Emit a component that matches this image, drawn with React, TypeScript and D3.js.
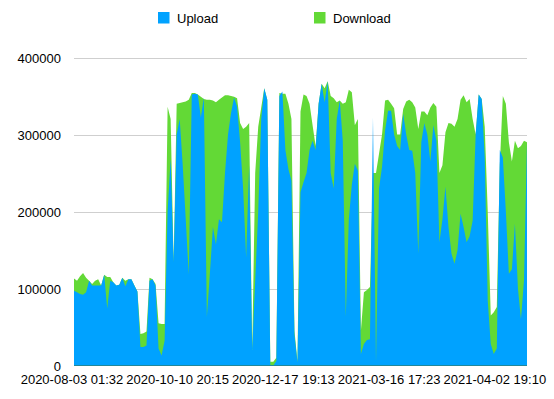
import React, { useEffect, useRef } from 'react';
import * as d3 from 'd3';

// values in thousands
const download = [
  113, 110, 116, 120, 114, 110, 106, 110, 112, 104,
  118, 115, 115, 108, 104, 105, 114, 110, 112, 112,
  104, 96, 41, 42, 44, 114, 112, 106, 55, 54,
  54, 336, 320, 134, 340, 341, 342, 343, 345, 354,
  354, 352, 349, 346, 345, 345, 344, 342, 345, 348,
  351, 351, 350, 349, 347, 315, 307, 310, 315, 20,
  250, 310, 335, 360, 345, 5, 5, 10, 354, 353,
  353, 340, 320, 45, 5, 330, 352, 350, 340, 312,
  285, 340, 366, 360, 369, 350, 347, 342, 344, 340,
  342, 358, 355, 312, 320, 45, 95, 98, 102, 250,
  250, 275, 300, 344, 345, 340, 334, 300, 300, 333,
  343, 345, 342, 335, 307, 330, 330, 325, 335, 341,
  336, 250, 260, 303, 315, 314, 310, 320, 345, 351,
  342, 346, 320, 300, 352, 346, 310, 200, 65, 69,
  76, 260, 350, 340, 290, 265, 292, 282, 285, 292,
  290,
];

const upload = [
  97, 95, 93, 92, 95, 110, 104, 104, 104, 104,
  118, 74, 110, 108, 104, 105, 114, 103, 112, 112,
  104, 96, 24, 24, 26, 110, 112, 104, 22, 13,
  32, 200, 268, 134, 300, 320, 260, 190, 118, 352,
  353, 352, 322, 348, 63, 120, 180, 157, 190, 186,
  250, 300, 328, 348, 336, 290, 230, 140, 260, 20,
  110, 200, 320, 360, 345, 0, 0, 6, 350, 356,
  280, 255, 240, 40, 4, 225, 238, 250, 280, 292,
  280, 340, 366, 342, 369, 250, 230, 320, 344, 292,
  63, 190, 235, 262, 253, 15, 28, 33, 34, 322,
  5, 230, 258, 305, 331, 331, 300, 285, 280, 327,
  300, 280, 279, 250, 145, 290, 315, 300, 265, 312,
  292, 160, 190, 232, 180, 145, 132, 150, 197, 180,
  160, 168, 188, 300, 352, 346, 270, 84, 28, 15,
  22, 280, 270, 200, 119, 125, 184, 100, 60, 110,
  290,
];

const tickIndex = [0, 35, 70, 105, 140];
const tickLabels = [
  '2020-08-03 01:32',
  '2020-10-10 20:15',
  '2020-12-17 19:13',
  '2021-03-16 17:23',
  '2021-04-02 19:10',
];
const yTicks = [0, 100000, 200000, 300000, 400000];

const seriesNames = ['Upload', 'Download'];
const seriesColors = ['#00a2ff', '#63d936'];

const App = () => {
  const ref = useRef<SVGSVGElement>(null);

  useEffect(() => {
    const svg = d3.select(ref.current);
    svg.selectAll('*').remove();

    const left = 74, right = 527, top = 57.5, bottom = 365.5;
    const n = upload.length;

    const x = d3.scaleLinear().domain([0, n - 1]).range([left, right]);
    const y = d3.scaleLinear().domain([0, 400000]).range([bottom, top]);

    const g = svg.append('g').style('font-family', '"Liberation Sans", Arial, sans-serif').style('font-size', '13px');

    // grid lines
    g.selectAll('.grid')
      .data(yTicks.slice(1))
      .join('line')
      .attr('class', 'grid')
      .attr('x1', left)
      .attr('x2', right)
      .attr('y1', d => Math.round(y(d)) + 0.5)
      .attr('y2', d => Math.round(y(d)) + 0.5)
      .attr('stroke', '#cfcfcf')
      .attr('stroke-width', 1);

    const area = d3.area<number>()
      .x((d, i) => x(i))
      .y0(y(0))
      .y1(d => y(d * 1000));

    g.append('path').datum(download).attr('d', area).attr('fill', seriesColors[1]);
    g.append('path').datum(upload).attr('d', area).attr('fill', seriesColors[0]);

    g.append('line')
      .attr('x1', left)
      .attr('x2', right)
      .attr('y1', bottom)
      .attr('y2', bottom)
      .attr('stroke', '#23879a')
      .attr('stroke-width', 1);

    // y labels
    g.selectAll('.ylab')
      .data(yTicks)
      .join('text')
      .attr('class', 'ylab')
      .attr('x', 61)
      .attr('y', d => y(d) + 5)
      .attr('text-anchor', 'end')
      .attr('fill', '#000')
      .text(d => String(d));

    // x labels
    g.selectAll('.xlab')
      .data(tickIndex)
      .join('text')
      .attr('class', 'xlab')
      .attr('x', d => x(d) - 2)
      .attr('y', 384)
      .attr('text-anchor', 'middle')
      .attr('fill', '#000')
      .text((d, i) => tickLabels[i]);

    // legend
    const legendX = [158, 314];
    const leg = g.selectAll('.leg')
      .data(seriesNames)
      .join('g')
      .attr('class', 'leg')
      .attr('transform', (d, i) => `translate(${legendX[i]}, 12)`);
    leg.append('rect')
      .attr('width', 11.5)
      .attr('height', 11.5)
      .attr('fill', (d, i) => seriesColors[i]);
    leg.append('text')
      .attr('x', 19)
      .attr('y', 10.5)
      .attr('fill', '#000')
      .text(d => d);
  }, []);

  return (
    <svg ref={ref} width={554} height={399} style={{ position: 'absolute', left: 0, top: 0 }} />
  );
};

export default App;
